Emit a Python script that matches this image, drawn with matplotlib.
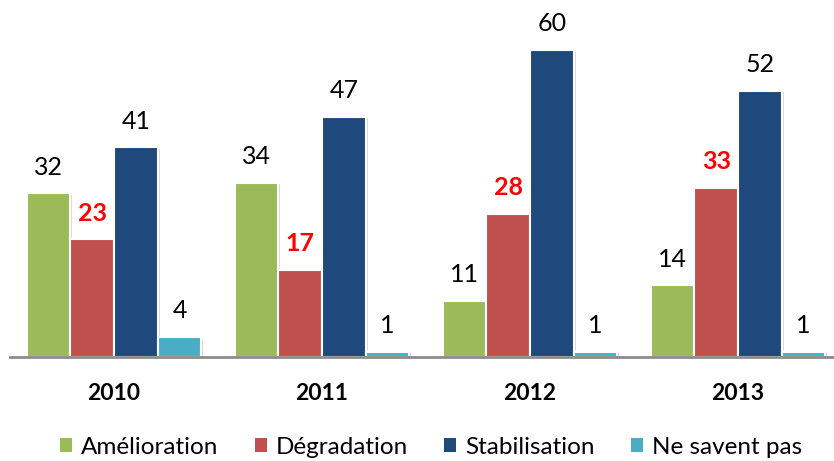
import matplotlib.pyplot as plt
import matplotlib.patheffects as pe
from matplotlib.patches import Patch
import numpy as np

plt.rcParams['font.family'] = ['Lato', 'DejaVu Sans']

# data
years = ['2010', '2011', '2012', '2013']
series_names = ['Amélioration', 'Dégradation', 'Stabilisation', 'Ne savent pas']
amelioration = [32, 34, 11, 14]
degradation = [23, 17, 28, 33]
stabilisation = [41, 47, 60, 52]
ne_savent_pas = [4, 1, 1, 1]

colors = ['#9BBB59', '#C0504D', '#1F497D', '#4BACC6']
label_colors = ['black', '#FF0000', 'black', 'black']
label_weights = ['normal', 'bold', 'normal', 'normal']

fig = plt.figure(figsize=(8.34, 4.61), dpi=100)
ax = fig.add_axes([10 / 834, 1 - 357 / 461, 832 / 834, 357 / 461])

x = np.arange(len(years))
width = 0.21
all_series = [amelioration, degradation, stabilisation, ne_savent_pas]
shadow = [pe.SimplePatchShadow(offset=(1.5, -1.0), shadow_rgbFace='#999999', alpha=0.35), pe.Normal()]

for i, vals in enumerate(all_series):
    pos = x + (i - 1.5) * width
    bars = ax.bar(pos, vals, width, color=colors[i], edgecolor='white', linewidth=1.5, zorder=2)
    for b in bars:
        b.set_path_effects(shadow)
    for p, v in zip(pos, vals):
        ax.annotate(str(v), (p, v), xytext=(0, 13.5), textcoords='offset points',
                    ha='center', va='baseline', fontsize=18,
                    color=label_colors[i], fontweight=label_weights[i])

ax.set_xlim(-0.5, 3.5)
ax.set_ylim(0, 69.8)
ax.set_yticks([])
ax.set_xticks(x)
ax.set_xticklabels(years, fontsize=16.5, fontweight='bold')
ax.tick_params(axis='x', length=0, pad=19)
for s in ['top', 'right', 'left']:
    ax.spines[s].set_visible(False)
ax.spines['bottom'].set_color('#8C8C8C')
ax.spines['bottom'].set_linewidth(2)
ax.spines['bottom'].set_zorder(3)

handles = [Patch(facecolor=c, edgecolor='none') for c in colors]
fig.legend(handles, series_names, loc='center', bbox_to_anchor=(431 / 834, 1 - 447 / 461),
           ncol=4, frameon=False, fontsize=17.5, handlelength=0.5, handleheight=0.5,
           handletextpad=0.37, columnspacing=1.48, borderpad=0.2)

fig.savefig('out.png', dpi=100)
